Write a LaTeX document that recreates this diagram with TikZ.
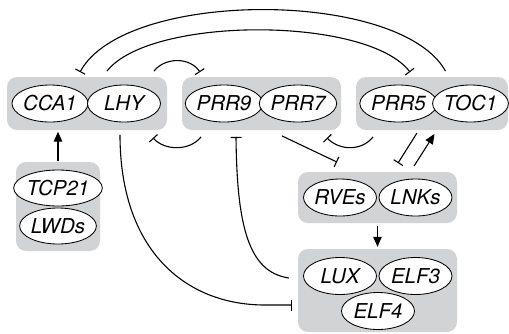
\documentclass[tikz,border=0pt]{standalone}
\usepackage{fontspec}
\setmainfont{TeX Gyre Heros}
\usetikzlibrary{arrows.meta,calc,shapes.geometric}
\definecolor{boxgray}{RGB}{210,211,213}
\begin{document}
\begin{tikzpicture}[x=1pt,y=-1pt,
  group/.style={fill=boxgray,rounded corners=10pt,draw=none,inner sep=0pt},
  gene/.style={ellipse,draw=black,line width=0.85pt,fill=white,minimum width=73pt,
    minimum height=37pt,inner sep=0pt,font=\fontsize{20.5}{20.5}\selectfont\itshape},
  link/.style={line width=1.1pt,draw=black},
  inh/.style={link,-{Bar[width=11pt,line width=1.1pt]}},
  act/.style={link,-{Triangle[length=10pt,width=8.5pt]}}]
\useasboundingbox (0,0) rectangle (509,333);

% grey groups
\node[group,minimum width=160pt,minimum height=53pt] (b1) at (87,103.5) {};
\node[group,minimum width=159pt,minimum height=53pt] (b2) at (261.5,103.5) {};
\node[group,minimum width=152pt,minimum height=53pt] (b3) at (432,103.5) {};
\node[group,minimum width=84pt,minimum height=89pt] (b4) at (58,206.5) {};
\node[group,minimum width=159pt,minimum height=51pt] (b5) at (377.5,197.5) {};
\node[group,minimum width=159pt,minimum height=83pt] (b6) at (377.5,290.5) {};

% genes
\node[gene] (CCA1) at (50,103.5) {CCA1};
\node[gene] (LHY) at (124,103.5) {LHY};
\node[gene] (PRR9) at (224,103.5) {PRR9};
\node[gene] (PRR7) at (298,103.5) {PRR7};
\node[gene] (PRR5) at (398.5,103.5) {PRR5};
\node[gene] (TOC1) at (470.5,103.5) {TOC1};
\node[gene,minimum height=36pt] (TCP21) at (58,188) {TCP21};
\node[gene,minimum height=36pt] (LWDs) at (58,226) {LWDs};
\node[gene] (RVEs) at (340,197.5) {RVEs};
\node[gene] (LNKs) at (415.5,197.5) {LNKs};
\node[gene] (LUX) at (340,276) {LUX};
\node[gene] (ELF3) at (415.5,276) {ELF3};
\node[gene] (ELF4) at (378,311) {ELF4};

% long arcs over the top
\draw[inh] ($(TOC1.north)+(-25,-13.5)$) .. controls (400,-11) and (125,-11) .. ($(CCA1.north)+(30,-12.5)$);
\draw[inh] ($(LHY.north)+(-17,-13.5)$) .. controls (150,16) and (367,16) .. ($(PRR5.north)+(11.5,-12.5)$);

% short arcs between neighbouring groups
\draw[inh] ($(LHY.north)+(30,-13.5)$) .. controls (165,57) and (190,57) .. ($(PRR9.north)+(-24,-12.5)$);
\draw[inh] ($(PRR9.south)+(-23,14.5)$) .. controls (190,151) and (165,151) .. ($(LHY.south)+(29,15.5)$);
\draw[inh] ($(PRR5.south)+(-25.5,14.5)$) .. controls (362,151) and (340,151) .. ($(PRR7.south)+(29,15.5)$);

% PRRs and RVEs/LNKs
\draw[inh] ($(PRR7.south)+(-16,13.5)$) -- ($(RVEs.north)+(-3,-16.5)$);
\draw[inh] ($(PRR5.south)+(18.5,10.5)$) -- ($(LNKs.north)+(-17.5,-15.5)$);
\draw[act] ($(LNKs.north)+(-1.5,-12.5)$) -- ($(TOC1.south)+(-36,11.5)$);

% activations between groups
\draw[act] ($(b4.north)+(0,-1)$) -- ($(b4.north |- b1.south)+(0,1.5)$);
\draw[act] ($(b5.south)+(0,3)$) -- ($(b6.north)+(0,-2)$);

% evening complex links
\draw[inh] ($(LHY.south)+(-4,12.5)$) .. controls (120,250) and (185,305) .. (265,305) -- ($(b6.west)+(-6,14.5)$);
\draw[inh] ($(b6.west)+(-9,-12.5)$) .. controls (248,272) and (237,225) .. ($(PRR9.south)+(12,14.5)$);
\end{tikzpicture}
\end{document}
